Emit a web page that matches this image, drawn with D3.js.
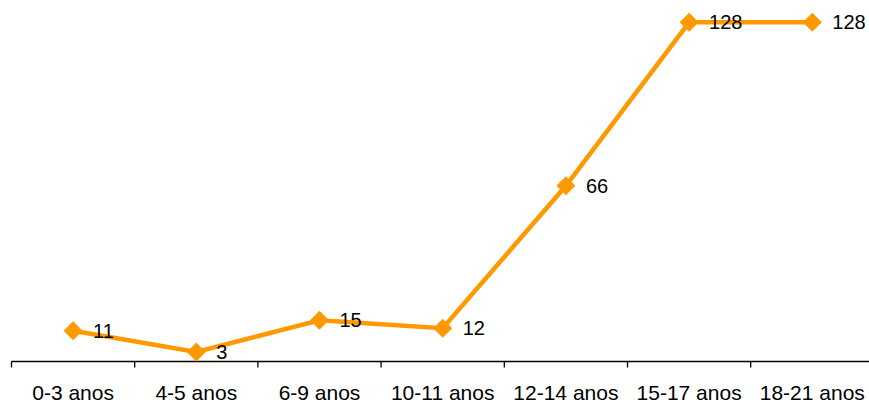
<!DOCTYPE html>
<html><head><meta charset="utf-8">
<script src="https://cdn.jsdelivr.net/npm/d3@7"></script>
<style>body{margin:0;background:#fff;} svg{display:block;}</style>
</head><body>
<svg id="c" width="869" height="402"></svg>
<script>
const categories = ["0-3 anos","4-5 anos","6-9 anos","10-11 anos","12-14 anos","15-17 anos","18-21 anos"];
const values = [11, 3, 15, 12, 66, 128, 128];
const yMax = 128;

const svg = d3.select("#c");
const color = "#FF9900";
const font = "Liberation Sans, Arial, sans-serif";

const x = d3.scaleBand().domain(categories).range([11.5, 11.5 + 123.2*7]);
const y = d3.scaleLinear().domain([0, yMax]).range([359.8, 22.3]);

const axisY = 361.5;
const ax = svg.append("g").attr("transform", `translate(0,${axisY})`);
ax.append("line").attr("x1", x.range()[0]).attr("x2", x.range()[1]).attr("stroke", "#000").attr("stroke-width", 1.3);
const bounds = categories.map(c => x(c)).concat([x.range()[1]]);
ax.selectAll("line.tick").data(bounds).enter().append("line")
  .attr("class","tick").attr("x1", d=>d).attr("x2", d=>d).attr("y1",0).attr("y2",6)
  .attr("stroke","#000").attr("stroke-width",1.3);
ax.selectAll("text").data(categories).enter().append("text")
  .attr("x", d => x(d) + x.bandwidth()/2).attr("y", 38.5)
  .attr("text-anchor","middle").attr("font-family", font).attr("font-size", 21)
  .attr("fill","#000").text(d=>d);

const cx = (d,i) => x(categories[i]) + x.bandwidth()/2;
const line = d3.line().x((d,i)=>cx(d,i)).y(d=>y(d));
svg.append("path").datum(values).attr("d", line).attr("fill","none")
  .attr("stroke", color).attr("stroke-width", 4.5).attr("stroke-linejoin","miter");

const s = 9.5;
svg.selectAll("path.m").data(values).enter().append("path").attr("class","m")
  .attr("d", (d,i)=>{const px=cx(d,i), py=y(d); return `M${px},${py-s}L${px+s},${py}L${px},${py+s}L${px-s},${py}Z`;})
  .attr("fill", color);

svg.selectAll("text.lbl").data(values).enter().append("text").attr("class","lbl")
  .attr("x",(d,i)=>cx(d,i)+20).attr("y", d=>y(d)+7)
  .attr("font-family", font).attr("font-size", 20).attr("fill","#000").text(d=>d);
</script>
</body></html>
